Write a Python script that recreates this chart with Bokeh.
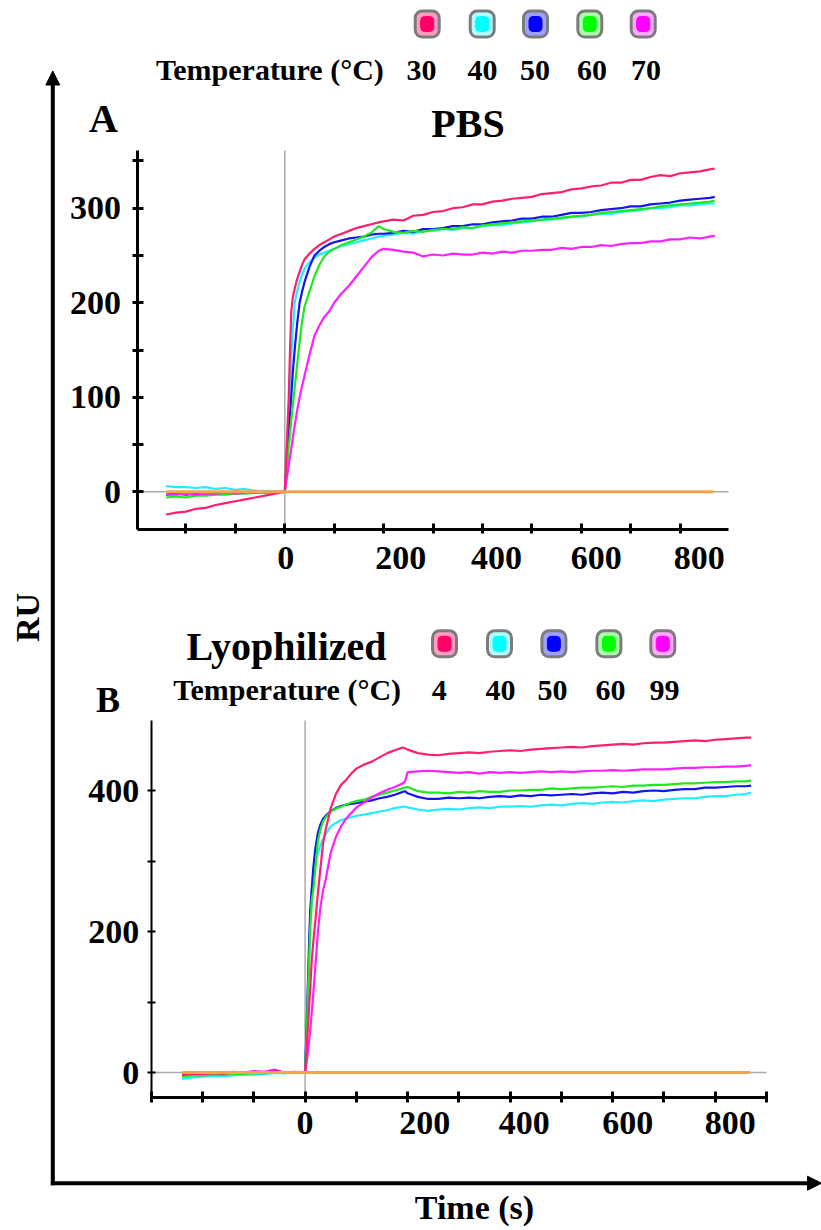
from math import pi
from bokeh.plotting import figure
from bokeh.core.properties import value
from bokeh.models import (ColumnDataSource, FixedTicker, LabelSet, LinearAxis,
                          BoxAnnotation, Arrow, NormalHead, Range1d)
from bokeh.embed import file_html
from bokeh.resources import INLINE

FONT = "Liberation Serif"

# ---------------- data ----------------
base_t = [-240, -220, -200, -180, -160, -140, -120, -100, -80, -60, -40, -20]
rise_t_a = [0, 2, 4, 6, 8, 10, 13, 16, 20, 25, 30, 35, 40, 50, 60, 70, 80, 90, 100,
            115, 130, 145, 160, 175, 190, 200]
rise_t_b = [0, 2, 4, 6, 8, 10, 13, 16, 20, 25, 30, 35, 40, 50, 60, 70, 80, 90, 100,
            115, 130, 145, 160, 175, 190, 195, 200]
late_t = [220, 240, 260, 280, 300, 320, 340, 360, 380, 400, 420, 440, 460, 480, 500,
          520, 540, 560, 580, 600, 620, 640, 660, 680, 700, 720, 740, 760, 780, 800,
          820, 840, 860, 870]
time_a = base_t + rise_t_a + late_t
time_b = base_t + rise_t_b + late_t

# Panel A (PBS) : 30, 40, 50, 60, 70 degC
ru_a_30 = ([-24, -22, -21, -18, -17, -14, -12, -10, -8, -6, -4, -2]
           + [0, 25, 50, 75, 100, 140, 190, 205, 215, 225, 233, 240, 246, 252, 257, 261,
              264, 267, 270, 273, 276, 279, 281, 283, 285, 286]
           + [288, 287, 292, 293, 296, 297, 300, 301, 304, 304, 307, 308, 310, 311, 312,
              315, 316, 317, 320, 321, 323, 324, 327, 327, 330, 330, 333, 335, 334, 337,
              338, 339, 341, 342])
ru_a_40 = ([6, 5, 5, 4, 5, 3, 4, 2, 3, 1, 1, 0]
           + [0, 20, 40, 60, 80, 100, 140, 170, 200, 212, 222, 230, 236, 243, 248, 251,
              253, 255, 257, 260, 262, 264, 266, 268, 270, 271]
           + [272, 274, 273, 276, 276, 278, 277, 279, 279, 281, 282, 282, 284, 285, 286,
              288, 288, 289, 291, 291, 293, 294, 294, 296, 297, 298, 300, 300, 301, 303,
              303, 304, 305, 305])
ru_a_50 = ([-3, -2, -3, -2, -2, -1, -2, -1, -1, 0, -1, 0]
           + [0, 15, 30, 50, 65, 78, 100, 125, 150, 178, 200, 212, 222, 238, 250, 255,
              259, 262, 264, 266, 268, 269, 270, 272, 273, 273]
           + [274, 276, 275, 278, 278, 279, 281, 281, 283, 283, 285, 286, 287, 289, 289,
              291, 291, 293, 295, 295, 296, 298, 299, 300, 302, 302, 304, 305, 306, 308,
              309, 310, 311, 312])
ru_a_60 = ([-6, -5, -6, -4, -4, -3, -3, -2, -2, -1, -1, 0]
           + [0, 10, 22, 35, 48, 58, 75, 90, 110, 135, 158, 180, 196, 212, 228, 240,
              249, 254, 257, 261, 264, 267, 270, 274, 281, 278]
           + [275, 274, 276, 275, 277, 278, 278, 280, 279, 282, 283, 284, 285, 286, 287,
              288, 289, 290, 291, 292, 293, 295, 296, 297, 298, 299, 300, 302, 303, 304,
              305, 306, 307, 308])
ru_a_70 = ([-3, -3, -2, -3, -2, -2, -1, -2, -1, -1, 0, 0]
           + [0, 7, 14, 21, 28, 35, 45, 56, 70, 86, 100, 112, 123, 145, 165, 176, 185,
              191, 200, 210, 218, 228, 238, 248, 255, 257]
           + [256, 254, 253, 249, 251, 250, 252, 251, 251, 253, 252, 254, 253, 255, 255,
              256, 256, 258, 257, 259, 259, 261, 260, 262, 263, 263, 265, 265, 267, 267,
              269, 268, 270, 271])

# Panel B (Lyophilized) : 4, 40, 50, 60, 99 degC
ru_b_4 = ([-3, -2, -2, -1, -2, 0, -1, 1, 0, 2, 0, 0]
          + [0, 20, 45, 70, 95, 120, 160, 185, 215, 255, 290, 325, 344, 375, 395, 408,
             415, 424, 431, 437, 441, 447, 453, 457, 461, 460, 458]
          + [453, 451, 450, 452, 453, 454, 453, 455, 456, 457, 456, 458, 459, 460, 461,
             462, 461, 463, 464, 465, 466, 465, 467, 468, 468, 469, 470, 471, 470, 472,
             473, 474, 475, 475])
ru_b_40 = ([-9, -7, -6, -5, -5, -4, -3, -3, -2, -1, -1, 0]
           + [0, 40, 80, 125, 170, 210, 245, 270, 295, 312, 322, 331, 338, 349, 354, 358,
              360, 362, 364, 366, 368, 370, 372, 375, 377, 377, 376]
           + [373, 371, 373, 374, 373, 375, 376, 375, 377, 377, 378, 377, 379, 380, 379,
              381, 382, 381, 383, 384, 383, 385, 386, 385, 387, 388, 389, 389, 391, 392,
              392, 394, 395, 397])
ru_b_50 = ([-4, -3, -3, -2, -2, -1, -1, 0, -1, 1, 0, 0]
           + [0, 45, 90, 140, 190, 230, 262, 290, 318, 340, 352, 360, 364, 371, 375, 378,
              380, 381, 382, 384, 386, 389, 391, 394, 398, 399, 396]
           + [391, 388, 388, 390, 389, 390, 389, 391, 392, 391, 393, 392, 394, 393, 394,
              395, 394, 396, 397, 396, 398, 397, 399, 400, 399, 401, 402, 402, 404, 404,
              405, 406, 406, 407])
ru_b_60 = ([-6, -4, -4, -3, -3, -2, -2, -1, -1, 0, -1, 0]
           + [0, 35, 75, 120, 165, 205, 245, 258, 290, 328, 345, 356, 362, 370, 374, 377,
              380, 383, 385, 387, 391, 394, 397, 400, 403, 404, 405]
           + [399, 397, 397, 396, 398, 397, 399, 398, 398, 400, 400, 401, 401, 403, 402,
              403, 404, 404, 405, 406, 405, 407, 407, 408, 408, 409, 410, 410, 411, 412,
              412, 413, 413, 414])
ru_b_99 = ([-2, -1, -2, 0, -1, 1, 0, 2, 1, 4, 0, 1]
           + [0, 10, 20, 32, 45, 60, 85, 112, 150, 200, 235, 258, 273, 312, 334, 349,
              360, 368, 376, 383, 390, 396, 401, 405, 410, 413, 426]
           + [427, 428, 427, 426, 425, 426, 424, 426, 425, 426, 425, 426, 427, 426, 427,
              426, 427, 428, 428, 429, 428, 429, 430, 430, 430, 431, 432, 432, 433, 433,
              434, 434, 435, 436])

# reference (orange) trace
ref_time = [-240, 868]
ref_ru = [0, 0]

temps_a = ["30", "40", "50", "60", "70"]
temps_b = ["4", "40", "50", "60", "99"]
x_tick_labels = ["0", "200", "400", "600", "800"]
x_tick_values = [0, 200, 400, 600, 800]

# ---------------- styles / layout ----------------
LINE_COLORS = ["#ff1f6f", "#1feeff", "#1414f0", "#1fe81f", "#ff1fff"]
CENTER_COLORS = ["#ff0066", "#00ffff", "#0000ff", "#00ff00", "#ff00ff"]
RING_COLORS = ["#ff9cc0", "#b0ffff", "#a0a0ff", "#a8ffa8", "#ffa8ff"]
ORANGE = "#f6a44c"
GRID_GRAY = "#ababab"
W, H = 821, 1230

# panel geometry: pixel position of data origin and pixels per unit
GEO = {
    "a": dict(ox=284.3, sx=0.4942, oy=491.3, sy=0.9453,
              xb=(-299, 898), yb=(-40.2, 361)),
    "b": dict(ox=304.6, sx=0.5127, oy=1072.0, sy=0.705,
              xb=(-300, 900), yb=(-35.0, 499.3)),
}

p = figure(width=W, height=H, x_range=Range1d(0, W), y_range=Range1d(0, H),
           x_axis_location=None, y_axis_location=None, min_border=0,
           min_border_left=0, min_border_right=0, min_border_top=0, min_border_bottom=0,
           output_backend="svg", toolbar_location=None, tools="",
           background_fill_color="white", border_fill_color="white")
p.outline_line_color = None
for g in p.grid:
    g.visible = False

for k, g in GEO.items():
    p.extra_x_ranges["x" + k] = Range1d(-g["ox"] / g["sx"], (W - g["ox"]) / g["sx"])
    p.extra_y_ranges["y" + k] = Range1d((g["oy"] - H) / g["sy"], g["oy"] / g["sy"])


def P(px, py):
    """page pixel (from top-left) -> default (page) range coordinates"""
    return px, H - py


def add_text(px, py, text, size, align="center", baseline="alphabetic", angle=0.0):
    x, y = P(px, py)
    src = ColumnDataSource(dict(x=[x], y=[y], text=[text]))
    p.add_layout(LabelSet(x="x", y="y", text="text", source=src,
                          text_font=value(FONT), text_font_style="bold",
                          text_font_size=f"{size}px", text_align=align,
                          text_baseline=baseline, angle=angle, text_color="black"))


def add_box(cx, cy, w, h, fill, line_color, line_width, radius):
    l, t = P(cx - w / 2, cy - h / 2)
    r, b = P(cx + w / 2, cy + h / 2)
    p.add_layout(BoxAnnotation(left=l, right=r, top=t, bottom=b, fill_color=fill,
                               fill_alpha=1.0, line_color=line_color,
                               line_width=line_width, line_alpha=1.0,
                               border_radius=radius, level="overlay"))


def add_seg(p0, p1, head=False):
    x0, y0 = P(*p0)
    x1, y1 = P(*p1)
    end = NormalHead(size=14, fill_color="black", line_color="black", line_width=1) if head else None
    p.add_layout(Arrow(x_start=x0, y_start=y0, x_end=x1, y_end=y1, end=end,
                       line_width=4, line_color="black"))


def legend(box_x, box_y, num_x, num_y, temps, temp_left):
    for i in range(5):
        add_box(box_x[i], box_y, 24, 26, RING_COLORS[i], "#7c7c7c", 3, 7)
        add_box(box_x[i], box_y, 13, 15, CENTER_COLORS[i], CENTER_COLORS[i], 1, 4)
        add_text(num_x[i], num_y, temps[i], 30)
    add_text(temp_left, num_y, "Temperature (°C)", 30, align="left")


def panel(k, t, series, y_major, y_minor, x_minor, ywidth, ytick, ystand, xtick,
          label_y, label_dx):
    g = GEO[k]
    xr, yr = "x" + k, "y" + k
    # zero lines (drawn first, under the traces)
    p.line(list(g["xb"]), [0, 0], x_range_name=xr, y_range_name=yr,
           line_color=GRID_GRAY, line_width=1.5)
    p.line([0, 0], list(g["yb"]), x_range_name=xr, y_range_name=yr,
           line_color=GRID_GRAY, line_width=1.5)
    for i in [1, 2, 3, 4, 0]:
        p.line(t, series[i], x_range_name=xr, y_range_name=yr,
               line_color=LINE_COLORS[i], line_width=2.2)
    p.line(ref_time, ref_ru, x_range_name=xr, y_range_name=yr,
           line_color=ORANGE, line_width=3)

    yax = LinearAxis(x_range_name=xr, y_range_name=yr, fixed_location=g["xb"][0],
                     bounds=g["yb"], ticker=FixedTicker(ticks=y_major, minor_ticks=y_minor))
    xax = LinearAxis(x_range_name=xr, y_range_name=yr, fixed_location=g["yb"][0],
                     bounds=g["xb"], ticker=FixedTicker(ticks=[], minor_ticks=x_minor))
    for ax, w, (tin, tout) in ((yax, ywidth, ytick), (xax, 3, xtick)):
        ax.axis_line_color = "black"
        ax.axis_line_width = w
        ax.major_tick_line_color = "black"
        ax.minor_tick_line_color = "black"
        ax.major_tick_line_width = w
        ax.minor_tick_line_width = w
        ax.major_tick_in = tin
        ax.major_tick_out = tout
        ax.minor_tick_in = tin
        ax.minor_tick_out = tout
        ax.major_label_text_font = FONT
        ax.major_label_text_font_style = "bold"
        ax.major_label_text_color = "black"
        ax.major_label_text_font_size = "34px"
    yax.major_label_standoff = ystand
    p.add_layout(yax, "left")
    p.add_layout(xax, "below")

    ylab = (g["oy"] - label_y) / g["sy"]
    p.add_layout(LabelSet(x="x", y="y", text="text", x_offset="dx",
                          x_range_name=xr, y_range_name=yr,
                          source=ColumnDataSource(dict(x=x_tick_values, y=[ylab] * 5,
                                                       text=x_tick_labels, dx=label_dx)),
                          text_font=value(FONT), text_font_style="bold",
                          text_font_size="34px", text_align="center",
                          text_baseline="alphabetic", text_color="black"))


# ---------------- panel A (PBS) ----------------
panel("a", time_a, [ru_a_30, ru_a_40, ru_a_50, ru_a_60, ru_a_70],
      [0, 100, 200, 300], [50, 150, 250, 350],
      [-200, -100, 0, 100, 200, 300, 400, 500, 600, 700, 800],
      3, (6, 5), 11, (6, 4), 568, [1, 17, 14, 15, 19])
legend([426.7, 481.7, 535, 589.3, 642.7], 23.5,
       [421, 482, 534.6, 591.6, 645.5], 79, temps_a, 155.5)
add_text(103, 131.5, "A", 40)
add_text(467.5, 136.5, "PBS", 40)

# ---------------- panel B (Lyophilized) ----------------
panel("b", time_b, [ru_b_4, ru_b_40, ru_b_50, ru_b_60, ru_b_99],
      [0, 200, 400], [100, 300],
      [-300, -200, -100, 0, 100, 200, 300, 400, 500, 600, 700, 800, 900],
      2, (4, 4), 8, (6, 5), 1133, [0, 17, 14, 15, 15])
legend([444, 499, 553.4, 608.4, 662.3], 643.3,
       [438.7, 500, 552, 610, 664], 699, temps_b, 172.8)
add_text(286, 659.3, "Lyophilized", 40)
add_text(107.6, 711.5, "B", 36)

# ---------------- outer axes ----------------
add_text(27, 617, "RU", 34, baseline="middle", angle=pi / 2)
add_text(474, 1218.5, "Time (s)", 34)
add_seg((52.3, 1184.7), (52.3, 70.5), head=True)
add_seg((50.3, 1182.7), (821, 1182.7), head=True)

open("out.html", "w").write(file_html(p, INLINE))
